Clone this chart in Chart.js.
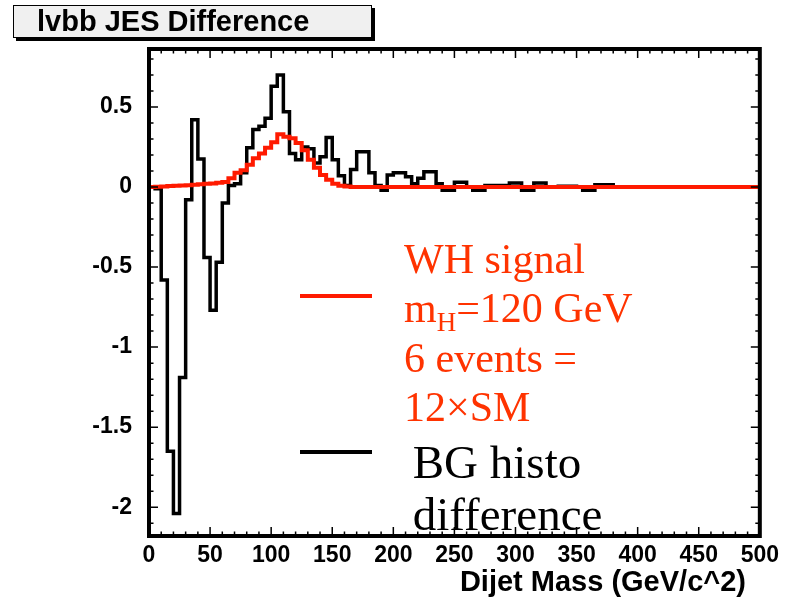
<!DOCTYPE html>
<html>
<head>
<meta charset="utf-8">
<script src="https://cdn.jsdelivr.net/npm/chart.js@4/dist/chart.umd.min.js"></script>
<style>
html,body{margin:0;padding:0;background:#fff;}
canvas{display:block;}
</style>
</head>
<body>
<canvas id="c" width="785" height="600" style="width:785px;height:600px"></canvas>
<script>
// ---- data (5 GeV bins from 0 to 500 GeV/c^2) ----
const binWidth = 5;
const bgDifference = [
  0, -0.01, -0.58, -1.65, -2.04, -1.19, -0.08, 0.42, 0.175, -0.44,
  -0.77, -0.47, -0.10, 0.01, 0.02, 0.09, 0.245, 0.36, 0.38, 0.43,
  0.63, 0.70, 0.47, 0.21, 0.17, 0.25, 0.24, 0.15, 0.19, 0.31,
  0.17, 0.07, 0.01, 0.11, 0.22, 0.22, 0.09, 0.01, -0.02, 0.075,
  0.09, 0.09, 0.065, 0.02, 0.055, 0.095, 0.095, 0.02, -0.02, -0.02,
  0.03, 0.03, 0.0, -0.02, -0.02, 0.01, 0.01, 0.01, 0.01, 0.025,
  0.025, -0.02, -0.02, 0.025, 0.025, 0, 0, 0.005, 0.005, 0.005,
  0.0, -0.02, -0.02, 0.015, 0.015, 0.015, 0, 0, 0, 0,
  0, 0, 0, 0, 0, 0, 0, 0, 0, 0,
  0, 0, 0, 0, 0, 0, 0, 0, 0, 0
];
const whSignal = [
  0.0, 0.002, 0.004, 0.006, 0.008, 0.01, 0.012, 0.014, 0.017, 0.02,
  0.023, 0.027, 0.032, 0.055, 0.09, 0.105, 0.14, 0.18, 0.21, 0.245,
  0.28, 0.33, 0.315, 0.305, 0.275, 0.23, 0.17, 0.12, 0.075, 0.045,
  0.02, 0.008, 0.003, 0, 0, 0, 0, 0, 0, 0,
  0, 0, 0, 0, 0, 0, 0, 0, 0, 0,
  0, 0, 0, 0, 0, 0, 0, 0, 0, 0,
  0, 0, 0, 0, 0, 0, 0, 0, 0, 0,
  0, 0, 0, 0, 0, 0, 0, 0, 0, 0,
  0, 0, 0, 0, 0, 0, 0, 0, 0, 0,
  0, 0, 0, 0, 0, 0, 0, 0, 0, 0
];
const xTickValues = [0, 50, 100, 150, 200, 250, 300, 350, 400, 450, 500];
const yTickValues = [0.5, 0, -0.5, -1, -1.5, -2];
const yTickLabels = ['0.5', '0', '-0.5', '-1', '-1.5', '-2'];
const titleText = 'lvbb JES Difference';
const xAxisTitle = 'Dijet Mass (GeV/c^2)';

// bin i covers [i*binWidth, (i+1)*binWidth]; drawn with stepped:'before'
function toSteps(vals){
  const pts = vals.map((v,i)=>({x:i*binWidth, y:v}));
  pts.push({x:vals.length*binWidth, y:vals[vals.length-1]});
  return pts;
}

const SANS = '"Liberation Sans", Arial, sans-serif';
const SERIF = '"Liberation Serif", "Times New Roman", serif';

const decor = {
  id:'decor',
  afterDatasetsDraw(chart){
    const ctx = chart.ctx, a = chart.chartArea;
    const xs = chart.scales.x, ys = chart.scales.y;
    ctx.save();
    // ticks (inward) on all four sides
    ctx.strokeStyle = '#000'; ctx.lineWidth = 1.5;
    for(let v=0; v<=500; v+=10){
      const px = xs.getPixelForValue(v);
      const L = (v%50===0)?9:4.5;
      ctx.beginPath();
      ctx.moveTo(px,a.bottom); ctx.lineTo(px,a.bottom-L);
      ctx.moveTo(px,a.top); ctx.lineTo(px,a.top+L);
      ctx.stroke();
    }
    for(let k=-21; k<=8; k++){
      const v = k/10;
      const py = ys.getPixelForValue(v);
      if(py<a.top||py>a.bottom) continue;
      const L = (k%5===0)?9:4.5;
      ctx.beginPath();
      ctx.moveTo(a.left,py); ctx.lineTo(a.left+L,py);
      ctx.moveTo(a.right,py); ctx.lineTo(a.right-L,py);
      ctx.stroke();
    }
    // frame
    ctx.lineWidth = 4; ctx.strokeStyle = '#000';
    ctx.strokeRect(a.left, a.top, a.right-a.left, a.bottom-a.top);

    // title box with shadow
    ctx.fillStyle = '#000';
    ctx.fillRect(16, 8, 359, 33);
    ctx.fillStyle = '#f0f0f0';
    ctx.fillRect(13, 5, 359, 33);
    ctx.lineWidth = 1; ctx.strokeStyle = '#000';
    ctx.strokeRect(13.5, 5.5, 358, 32);
    ctx.fillStyle = '#000';
    ctx.font = 'bold 29px ' + SANS;
    ctx.textAlign = 'left'; ctx.textBaseline = 'alphabetic';
    ctx.fillText(titleText, 37, 31);

    // x axis title
    ctx.font = 'bold 29px ' + SANS;
    ctx.textAlign = 'right';
    ctx.fillText(xAxisTitle, 746, 591);

    // legend
    ctx.lineWidth = 4;
    ctx.strokeStyle = '#ff1a00';
    ctx.beginPath(); ctx.moveTo(300,296); ctx.lineTo(372,296); ctx.stroke();
    ctx.strokeStyle = '#000';
    ctx.beginPath(); ctx.moveTo(300,452); ctx.lineTo(372,452); ctx.stroke();

    ctx.textAlign = 'left';
    ctx.fillStyle = '#ff3300';
    ctx.font = '42px ' + SERIF;
    ctx.fillText('WH signal', 404, 273);
    ctx.fillText('m', 404, 322);
    const mW = ctx.measureText('m').width;
    ctx.font = '27px ' + SERIF;
    ctx.fillText('H', 404+mW, 331);
    const hW = ctx.measureText('H').width;
    ctx.font = '42px ' + SERIF;
    ctx.fillText('=120 GeV', 404+mW+hW, 322);
    ctx.fillText('6 events =', 404, 372);
    ctx.fillText('12\u00d7SM', 404, 421);
    ctx.fillStyle = '#000';
    ctx.font = '47px ' + SERIF;
    ctx.fillText(' BG histo', 401, 478);
    ctx.fillText(' difference', 401, 530);
    ctx.restore();
  }
};

new Chart(document.getElementById('c'), {
  type:'line',
  data:{
    datasets:[
      {label:'WH signal', data:toSteps(whSignal), stepped:'before', borderColor:'#ff1a00', borderWidth:4, pointRadius:0, fill:false, order:0},
      {label:'BG histo difference', data:toSteps(bgDifference), stepped:'before', borderColor:'#000', borderWidth:3.5, pointRadius:0, fill:false, order:1}
    ]
  },
  options:{
    responsive:false, animation:false,
    layout:{padding:{top:49, right:24, left:0, bottom:0}},
    plugins:{legend:{display:false}, tooltip:{enabled:false}, title:{display:false}},
    scales:{
      x:{
        type:'linear', min:0, max:500,
        grid:{display:false, drawTicks:false}, border:{display:false},
        afterBuildTicks(s){ s.ticks = xTickValues.map(v=>({value:v})); },
        ticks:{padding:6, color:'#000', font:{family:SANS, size:23, weight:'bold'}, maxRotation:0, autoSkip:false},
        afterFit(s){ s.height = 64; }
      },
      y:{
        type:'linear', min:-2.18, max:0.8625,
        grid:{display:false, drawTicks:false}, border:{display:false},
        afterBuildTicks(s){ s.ticks = yTickValues.map(v=>({value:v})); },
        ticks:{padding:17, color:'#000', font:{family:SANS, size:23, weight:'bold'},
          callback:(v)=>{ const i = yTickValues.indexOf(v); return i>=0 ? yTickLabels[i] : ''; }},
        afterFit(s){ s.width = 149; }
      }
    }
  },
  plugins:[decor]
});
</script>
</body>
</html>
